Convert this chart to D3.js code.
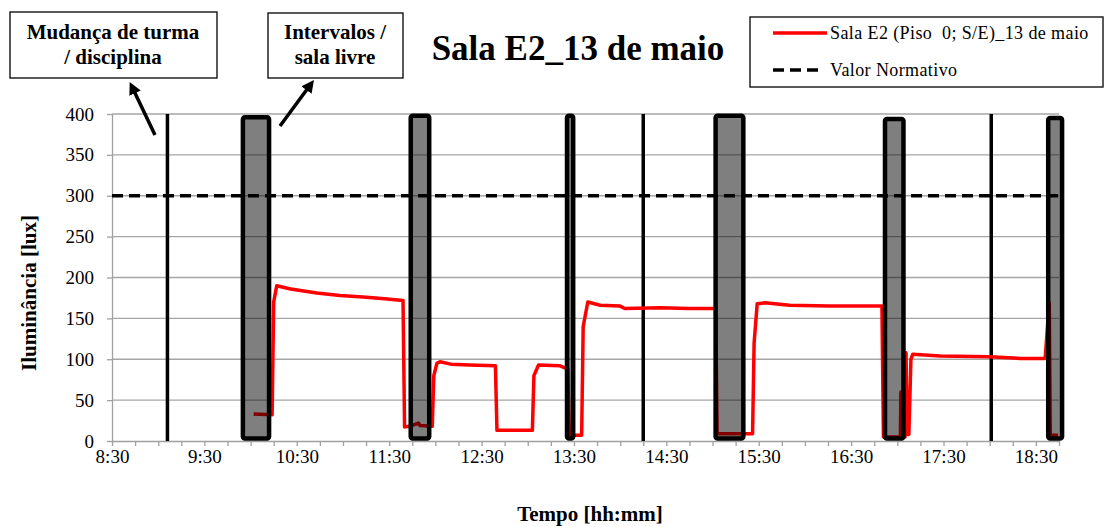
<!DOCTYPE html>
<meta charset="utf-8">
<title>Sala E2_13 de maio</title>
<style>
    body {
        margin: 0;
        background: #fff;
    }

    text {
        font-family: "Liberation Serif", "Times New Roman", serif;
    }

    .tick text {
        font-size: 19px;
        fill: #000;
    }

    .tick line,
    .domain {
        stroke: #a0a0a0;
        stroke-width: 1.3;
    }

    .grid line {
        stroke: #a6a6a6;
        stroke-width: 1.3;
    }
</style>

<body>
    <div id="my_dataviz"></div>

    <script src="https://cdn.jsdelivr.net/npm/d3@7"></script>
    <script>
        // red series: time of reading and illuminance [lux]
        var lineTime = ["10:02", "10:14", "10:15", "10:17", "10:26", "10:43", "10:58", "11:13", "11:27", "11:39",
            "11:40", "11:45", "11:49", "11:50", "11:58", "11:59", "12:01", "12:03", "12:10", "12:22",
            "12:39", "12:40", "13:03", "13:04", "13:07", "13:21", "13:26", "13:27", "13:35", "13:36",
            "13:39", "13:47", "14:00", "14:03", "14:26", "14:45", "15:02", "15:03", "15:26", "15:27",
            "15:29", "15:34", "15:50", "16:16", "16:50", "16:51", "17:02", "17:02:20", "17:02:40", "17:05",
            "17:05:40", "17:06:20", "17:07:30", "17:08:50", "17:10", "17:28", "18:00", "18:20", "18:36", "18:38:40",
            "18:39:20", "18:44:20"
        ];
        var lineLux = [33, 32, 170, 190, 186, 181, 178, 176, 174, 172,
            17, 19, 22, 19, 18, 80, 95, 97, 94, 93,
            92, 13, 13, 80, 93, 92, 88, 7, 7, 140,
            170, 166, 165, 162, 163, 162, 162, 9, 9, 120,
            168, 169, 166, 165, 165, 5, 5, 60, 5, 5,
            108, 8, 8, 100, 106, 104, 103, 101, 101, 169,
            7, 7
        ];

        // normative value
        var normValue = 300;

        // class change lines
        var changeTime = ["9:06", "14:15", "18:01"];

        // intervals / free room boxes
        var boxStart = ["9:55", "11:44", "13:25:30", "15:02", "16:52", "18:38"];
        var boxEnd = ["10:12", "11:56", "13:29:30", "15:20", "17:04", "18:47"];
        var boxTop = [396, 398, 398, 398, 394, 395];
        var boxBottom = 3;

        // axis
        var xStart = "8:30",
            xEnd = "18:45";
        var yTicks = [0, 50, 100, 150, 200, 250, 300, 350, 400];

        var parseM = d3.timeParse("%H:%M"),
            parseS = d3.timeParse("%H:%M:%S");

        function toDate(s) {
            return parseS(s) || parseM(s);
        }

        var series = lineTime.map(function(t, i) {
            return {
                t: toDate(t),
                v: lineLux[i]
            };
        });

        var W = 1105,
            H = 527;

        var svg = d3.select("#my_dataviz")
            .append("svg")
            .attr("width", W)
            .attr("height", H);

        var x = d3.scaleTime()
            .domain([toDate(xStart), toDate(xEnd)])
            .range([112, 1059]);

        var y = d3.scaleLinear()
            .domain([0, 400])
            .range([441, 114]);

        // horizontal grid
        svg.append("g")
            .attr("class", "grid")
            .selectAll("line")
            .data(yTicks.slice(1))
            .enter()
            .append("line")
            .attr("x1", x.range()[0])
            .attr("x2", x.range()[1])
            .attr("y1", function(d) { return y(d); })
            .attr("y2", function(d) { return y(d); });

        // y axis
        svg.append("g")
            .attr("transform", "translate(" + x.range()[0] + ",0)")
            .call(d3.axisLeft(y).tickValues(yTicks).tickSize(5).tickSizeOuter(0).tickPadding(13));

        // x axis: ticks every 15 min, labels every hour
        var xTicks = d3.timeMinute.every(15).range(toDate(xStart), d3.timeMinute.offset(toDate(xEnd), 1));
        var fmt = d3.timeFormat("%-H:%M");
        svg.append("g")
            .attr("transform", "translate(0," + y(0) + ")")
            .call(d3.axisBottom(x)
                .tickValues(xTicks)
                .tickSize(5)
                .tickSizeOuter(0)
                .tickPadding(3.5)
                .tickFormat(function(d) {
                    return d.getMinutes() == 30 ? fmt(d) : "";
                }));

        svg.selectAll(".domain").attr("stroke", "#a0a0a0");

        // normative line
        svg.append("line")
            .attr("x1", x.range()[0])
            .attr("x2", x.range()[1])
            .attr("y1", y(normValue))
            .attr("y2", y(normValue))
            .attr("stroke", "#000")
            .attr("stroke-width", 3.5)
            .attr("stroke-dasharray", "11,6");

        // class change lines
        svg.selectAll(".change")
            .data(changeTime)
            .enter()
            .append("line")
            .attr("class", "change")
            .attr("x1", function(d) { return x(toDate(d)); })
            .attr("x2", function(d) { return x(toDate(d)); })
            .attr("y1", y(400))
            .attr("y2", y(0))
            .attr("stroke", "#000")
            .attr("stroke-width", 3.5);

        // illuminance line
        var line = d3.line()
            .x(function(d) { return x(d.t); })
            .y(function(d) { return y(d.v); });

        svg.append("path")
            .datum(series)
            .attr("d", line)
            .attr("fill", "none")
            .attr("stroke", "#ff0000")
            .attr("stroke-width", 3.5)
            .attr("stroke-linejoin", "round");

        // interval boxes (half transparent, on top of the line)
        svg.selectAll(".box")
            .data(boxStart)
            .enter()
            .append("rect")
            .attr("class", "box")
            .attr("x", function(d) { return x(toDate(d)); })
            .attr("width", function(d, i) { return x(toDate(boxEnd[i])) - x(toDate(d)); })
            .attr("y", function(d, i) { return y(boxTop[i]); })
            .attr("height", function(d, i) { return y(boxBottom) - y(boxTop[i]); })
            .attr("rx", 2)
            .attr("fill", "#000")
            .attr("fill-opacity", 0.5)
            .attr("stroke", "#000")
            .attr("stroke-width", 4.5);

        // title
        svg.append("text")
            .attr("x", 578)
            .attr("y", 60)
            .attr("text-anchor", "middle")
            .style("font-size", "35px")
            .style("font-weight", "bold")
            .text("Sala E2_13 de maio");

        // axis titles
        svg.append("text")
            .attr("x", 590)
            .attr("y", 521)
            .attr("text-anchor", "middle")
            .style("font-size", "21px")
            .style("font-weight", "bold")
            .text("Tempo [hh:mm]");

        svg.append("text")
            .attr("transform", "translate(36,293) rotate(-90)")
            .attr("text-anchor", "middle")
            .style("font-size", "21px")
            .style("font-weight", "bold")
            .text("Iluminância  [lux]");

        // arrow marker
        svg.append("defs").append("marker")
            .attr("id", "head")
            .attr("viewBox", "0 0 10 10")
            .attr("refX", 2)
            .attr("refY", 5)
            .attr("markerWidth", 3.6)
            .attr("markerHeight", 3.6)
            .attr("orient", "auto")
            .append("path")
            .attr("d", "M0,0L10,5L0,10z")
            .attr("fill", "#000");

        // annotation boxes
        var notes = [{
            x: 10, y: 12, w: 207, h: 66, cx: 113,
            lines: ["Mudança de turma", "/ disciplina"],
            arrow: [155, 135, 134, 91]
        }, {
            x: 268, y: 13, w: 135, h: 65, cx: 335,
            lines: ["Intervalos /", "sala livre"],
            arrow: [280, 126, 308, 88]
        }];

        notes.forEach(function(n) {
            svg.append("rect")
                .attr("x", n.x)
                .attr("y", n.y)
                .attr("width", n.w)
                .attr("height", n.h)
                .attr("fill", "#fff")
                .attr("stroke", "#000")
                .attr("stroke-width", 1.3);
            n.lines.forEach(function(l, i) {
                svg.append("text")
                    .attr("x", n.cx)
                    .attr("y", 39 + i * 25)
                    .attr("text-anchor", "middle")
                    .style("font-size", "21px")
                    .style("font-weight", "bold")
                    .text(l);
            });
            svg.append("line")
                .attr("x1", n.arrow[0])
                .attr("y1", n.arrow[1])
                .attr("x2", n.arrow[2])
                .attr("y2", n.arrow[3])
                .attr("stroke", "#000")
                .attr("stroke-width", 3.5)
                .attr("marker-end", "url(#head)");
        });

        // legend
        var legend = svg.append("g");
        legend.append("rect")
            .attr("x", 750)
            .attr("y", 17)
            .attr("width", 353)
            .attr("height", 70)
            .attr("fill", "#fff")
            .attr("stroke", "#000")
            .attr("stroke-width", 1.3);
        legend.append("line")
            .attr("x1", 773).attr("x2", 827)
            .attr("y1", 33).attr("y2", 33)
            .attr("stroke", "#ff0000")
            .attr("stroke-width", 3.5);
        legend.append("line")
            .attr("x1", 773).attr("x2", 822)
            .attr("y1", 70).attr("y2", 70)
            .attr("stroke", "#000")
            .attr("stroke-width", 3.5)
            .attr("stroke-dasharray", "11,6");
        legend.append("text")
            .attr("x", 830)
            .attr("y", 39)
            .style("font-size", "18px")
            .style("letter-spacing", "0.4px")
            .style("white-space", "pre")
            .text("Sala E2 (Piso  0; S/E)_13 de maio");
        legend.append("text")
            .attr("x", 830)
            .attr("y", 76)
            .style("font-size", "18px")
            .style("letter-spacing", "0.4px")
            .text("Valor Normativo");
    </script>
</body>
